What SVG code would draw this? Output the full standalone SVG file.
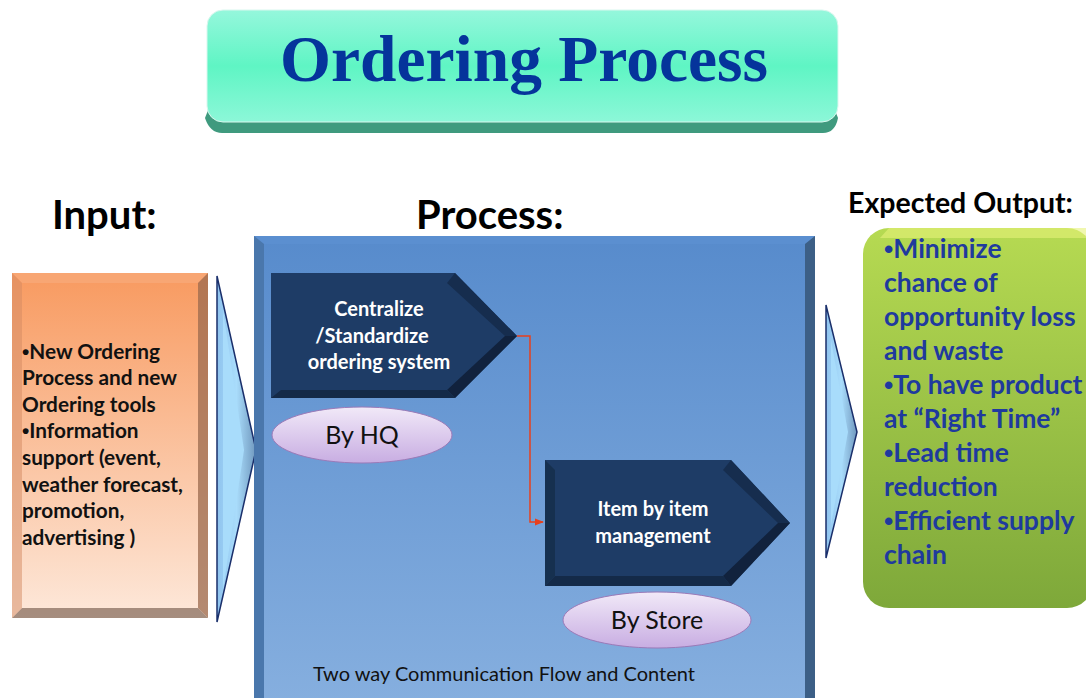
<svg xmlns="http://www.w3.org/2000/svg" width="1086" height="698" viewBox="0 0 1086 698">
<defs>
<linearGradient id="gTitle" x1="0" y1="0" x2="0" y2="1"><stop offset="0" stop-color="#95f7dc"/><stop offset="0.5" stop-color="#5ff5c4"/><stop offset="1" stop-color="#8cf7d8"/></linearGradient>
<linearGradient id="gIn" x1="0" y1="0" x2="0" y2="1"><stop offset="0" stop-color="#f89a60"/><stop offset="1" stop-color="#fde8da"/></linearGradient>
<linearGradient id="gProc" x1="0" y1="0" x2="0" y2="1"><stop offset="0" stop-color="#578bcc"/><stop offset="1" stop-color="#86afdf"/></linearGradient>
<linearGradient id="gOut" x1="0" y1="0" x2="0" y2="1"><stop offset="0" stop-color="#b6da52"/><stop offset="1" stop-color="#7ea83a"/></linearGradient>
<linearGradient id="gEll" x1="0" y1="0" x2="0" y2="1"><stop offset="0" stop-color="#f1e9f8"/><stop offset="1" stop-color="#c8ade2"/></linearGradient>
<linearGradient id="gChev" x1="0" y1="0" x2="1" y2="0"><stop offset="0" stop-color="#8fc3ee"/><stop offset="0.5" stop-color="#a9dcfb"/><stop offset="1" stop-color="#6f97bd"/></linearGradient>
<marker id="arr" viewBox="0 0 10 10" refX="9" refY="5" markerWidth="6" markerHeight="6" orient="auto"><path d="M0,1 L10,5 L0,9 z" fill="#e8401c"/></marker>
</defs>
<style>
text{font-family:Lato,"Open Sans",sans-serif}
.b{font-family:"Liberation Sans",sans-serif}
.ttl{font-family:"Liberation Serif",serif;font-weight:bold;font-size:65.5px;fill:#05349b;text-anchor:middle}
.hd{font-weight:bold;fill:#000}
.in{font-weight:bold;font-size:20.8px;fill:#111}
.ch{font-weight:bold;font-size:20px;fill:#fff;text-anchor:middle}
.el{font-size:25px;fill:#111;text-anchor:middle}
.out{font-weight:bold;font-size:26.5px;fill:#1f3a9e}
.chev{fill:#1e3c66}
</style>
<rect width="1086" height="698" fill="#fff"/>

<g id="title">
<path d="M212,100 L205,118 Q210,133 222,133 L823,133 Q835,133 838,118 L831,100 Z" fill="#3f9a7e"/>
<rect x="207" y="10" width="631" height="112" rx="16" fill="url(#gTitle)" stroke="#d9f7ee" stroke-width="1"/>
<text class="ttl" x="524" y="81">Ordering Process</text>
</g>

<g id="headings">
<text class="hd" x="52" y="229" font-size="40">Input:</text>
<text class="hd" x="416" y="229" font-size="40">Process:</text>
<text class="hd" x="848" y="213" font-size="28.5">Expected Output:</text>
</g>

<g id="input">
<rect x="12" y="273" width="196" height="345" fill="url(#gIn)"/>
<path d="M12,273 L208,273 L198,283 L22,283 Z" fill="#f7a978" opacity="0.8"/>
<path d="M208,273 L208,618 L198,608 L198,283 Z" fill="#9b6a4e" opacity="0.75"/>
<path d="M12,618 L208,618 L198,608 L22,608 Z" fill="#8e7566" opacity="0.8"/>
<path d="M12,273 L22,283 L22,608 L12,618 Z" fill="#d48a62" opacity="0.5"/>
<text class="in" x="22" y="359"><tspan class="b">•</tspan>New Ordering</text>
<text class="in" x="22" y="385">Process and new</text>
<text class="in" x="22" y="412">Ordering tools</text>
<text class="in" x="22" y="438"><tspan class="b">•</tspan>Information</text>
<text class="in" x="22" y="465">support (event,</text>
<text class="in" x="22" y="492">weather forecast,</text>
<text class="in" x="22" y="518">promotion,</text>
<text class="in" x="22" y="545">advertising )</text>
</g>

<g id="arrow-left">
<path d="M217,276 L256,450 L217,622 Z" fill="url(#gChev)" stroke="#1a2f6b" stroke-width="1.5"/>
<path d="M223,310 L244,450 L223,590 Z" fill="#a8dcfb"/>
</g>

<g id="process">
<rect x="254" y="236" width="561" height="470" fill="url(#gProc)"/>
<path d="M254,236 L815,236 L805,244 L264,244 Z" fill="#5b8fd0"/>
<path d="M254,236 L264,244 L264,698 L254,698 Z" fill="#4a77ac"/>
<path d="M815,236 L815,698 L805,698 L805,244 Z" fill="#3c5f86"/>
<text x="313" y="681" font-size="20" fill="#111">Two way Communication Flow and Content</text>
</g>

<g id="step-hq">
<path class="chev" d="M271,273 L455,273 L517,336 L455,398 L271,398 Z"/>
<path d="M455,273 L517,336 L505,336 L447,283 Z" fill="#162d4e"/>
<path d="M517,336 L455,398 L447,390 L505,336 Z" fill="#11223d"/>
<path d="M271,398 L455,398 L447,390 L281,390 Z" fill="#142a48"/>
<text class="ch" x="379" y="316">Centralize</text>
<text class="ch" x="372" y="343">/Standardize</text>
<text class="ch" x="379" y="369">ordering system</text>
</g>

<g id="by-hq">
<ellipse cx="362" cy="435" rx="90" ry="28" fill="url(#gEll)" stroke="#9b7ab8" stroke-width="1"/>
<text class="el" x="362" y="444">By HQ</text>
</g>

<g id="step-store">
<path class="chev" d="M545,460 L731,460 L790,523 L731,586 L545,586 Z"/>
<path d="M731,460 L790,523 L778,523 L723,470 Z" fill="#162d4e"/>
<path d="M790,523 L731,586 L723,576 L778,523 Z" fill="#11223d"/>
<path d="M545,586 L731,586 L723,576 L555,576 Z" fill="#142a48"/>
<path d="M545,460 L555,470 L555,576 L545,586 Z" fill="#16304f"/>
<text class="ch" x="653" y="516">Item by item</text>
<text class="ch" x="653" y="543">management</text>
</g>

<g id="by-store">
<ellipse cx="657" cy="620" rx="94" ry="28" fill="url(#gEll)" stroke="#9b7ab8" stroke-width="1"/>
<text class="el" x="657" y="629">By Store</text>
</g>

<g id="arrow-right">
<path d="M826,305 L857,432 L826,558 Z" fill="url(#gChev)" stroke="#1a2f6b" stroke-width="1.5"/>
<path d="M831,340 L848,432 L831,525 Z" fill="#a8dcfb"/>
</g>

<g id="output">
<rect x="863" y="228" width="230" height="380" rx="26" fill="url(#gOut)"/>
<path d="M889,228 L1086,228 L1086,238 L880,238 Z" fill="#e6f27a" opacity="0.6"/>
<text class="out" x="884" y="258"><tspan class="b">•</tspan>Minimize</text>
<text class="out" x="884" y="292">chance of</text>
<text class="out" x="884" y="326">opportunity loss</text>
<text class="out" x="884" y="360">and waste</text>
<text class="out" x="884" y="394"><tspan class="b">•</tspan>To have product</text>
<text class="out" x="884" y="428">at “Right Time”</text>
<text class="out" x="884" y="462"><tspan class="b">•</tspan>Lead time</text>
<text class="out" x="884" y="496">reduction</text>
<text class="out" x="884" y="530"><tspan class="b">•</tspan>Efficient supply</text>
<text class="out" x="884" y="564">chain</text>
</g>

<g id="connectors">
<polyline points="517,336 530,336 530,522 543,522" fill="none" stroke="#e8401c" stroke-width="1.5" marker-end="url(#arr)"/>
</g>
</svg>
